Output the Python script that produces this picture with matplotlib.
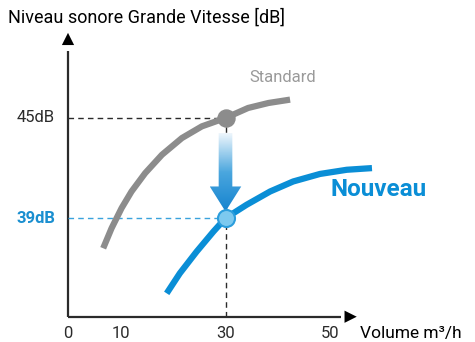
import numpy as np
import matplotlib
matplotlib.use("Agg")
import matplotlib.pyplot as plt
from matplotlib.patches import Polygon
from matplotlib.colors import LinearSegmentedColormap

# Curves (volume m3/h, noise dB)
standard_x = [6.7, 8.3, 10.2, 12.1, 14.7, 17.9, 21.7, 25.5, 30.0, 34.3, 38.2, 42.3]
standard_y = [37.2, 38.4, 39.6, 40.6, 41.7, 42.8, 43.8, 44.5, 45.0, 45.6, 45.9, 46.1]
nouveau_x = [18.8, 21.3, 24.5, 27.7, 30.0, 34.0, 38.5, 42.9, 48.0, 53.1, 57.9]
nouveau_y = [34.5, 35.7, 37.0, 38.2, 39.0, 39.8, 40.6, 41.2, 41.65, 41.9, 42.0]

# Highlighted operating point
point_x = 30
point_db = [45, 39]
db_labels = ["45dB", "39dB"]
x_ticks = [0, 10, 30, 50]

GRAY = "#8c8c8c"
BLUE = "#0a8ed6"
DARK = "#2b2b2b"

fig = plt.figure(figsize=(4.75, 3.42), dpi=100)
ax = fig.add_axes([0, 0, 1, 1])
ax.set_xlim(-68 / 5.25, (475 - 68) / 5.25)
ax.set_ylim(45 - 224 / 16.7, 45 + 118 / 16.7)
ax.axis("off")

x0, y0 = 0, 33.1

# axes with arrow heads
ax.plot([x0, x0], [y0, 49], color=DARK, lw=1.6, solid_capstyle="butt")
ax.plot([x0, 52], [y0, y0], color=DARK, lw=1.6, solid_capstyle="butt")
ax.annotate("", xy=(x0, 50.1), xytext=(x0, 48.8),
            arrowprops=dict(arrowstyle="-|>", color="black", lw=0,
                            mutation_scale=22, shrinkA=0, shrinkB=0))
ax.annotate("", xy=(55.0, y0), xytext=(52.5, y0),
            arrowprops=dict(arrowstyle="-|>", color="black", lw=0,
                            mutation_scale=22, shrinkA=0, shrinkB=0))

# guide lines
ax.plot([x0, point_x], [point_db[0]] * 2, color=DARK, lw=1, ls=(0, (4, 3)))
ax.plot([x0, point_x], [point_db[1]] * 2, color="#3aa3dc", lw=1, ls=(0, (4, 3)))
ax.plot([point_x, point_x], [y0, point_db[0]], color=DARK, lw=1, ls=(0, (4, 3)))

# curves
ax.plot(standard_x, standard_y, color=GRAY, lw=4.5, solid_capstyle="butt",
        solid_joinstyle="round")
ax.plot(nouveau_x, nouveau_y, color=BLUE, lw=4.5, solid_capstyle="butt",
        solid_joinstyle="round")

# gradient arrow from the standard to the new level
top, tip = 44.1, 39.4
hw, sw, hl = 3.0, 1.3, 1.5
arrow = Polygon([(point_x - sw, top), (point_x + sw, top), (point_x + sw, tip + hl),
                 (point_x + hw, tip + hl), (point_x, tip), (point_x - hw, tip + hl),
                 (point_x - sw, tip + hl)], closed=True, facecolor="none",
                edgecolor="none")
ax.add_patch(arrow)
cmap = LinearSegmentedColormap.from_list("arr", ["#1583cf", "#4aa6de", "#eef6fc"])
grad = np.linspace(0, 1, 100).reshape(-1, 1)
im = ax.imshow(grad, cmap=cmap, aspect="auto", origin="lower",
               extent=(point_x - hw, point_x + hw, tip, top), zorder=3)
im.set_clip_path(arrow)

# markers
ax.scatter([point_x], [point_db[0]], s=150, color=GRAY, zorder=4)
ax.scatter([point_x], [point_db[1]], s=150, color="#7cc9ef", edgecolor="#2b9ddc",
           lw=1.5, zorder=4)

# labels
font = "Roboto"
fig.text(8 / 475, 1 - 18 / 342, "Niveau sonore Grande Vitesse [dB]", fontsize=13,
         family=font, color="black", va="center")
ax.text(-2.5, point_db[0], db_labels[0], ha="right", va="center", fontsize=12,
        family=font, color=DARK)
ax.text(-2.5, point_db[1], db_labels[1], ha="right", va="center", fontsize=12,
        family=font, color="#1a8fd0", fontweight="bold")
for t in x_ticks:
    ax.text(t, 32.1, str(t), ha="center", va="center", fontsize=12, family=font,
            color=DARK)
ax.text(55.6, 32.1, "Volume m³/h", ha="left", va="center", fontsize=12.5,
        family=font, color="black")
ax.text(34.5, 47.4, "Standard", ha="left", va="center", fontsize=12, family=font,
        color="#9a9a9a")
ax.text(50, 40.7, "Nouveau", ha="left", va="center", fontsize=17.5, family=font,
        color=BLUE, fontweight="bold")

fig.savefig("out.png", dpi=100, facecolor="white")
